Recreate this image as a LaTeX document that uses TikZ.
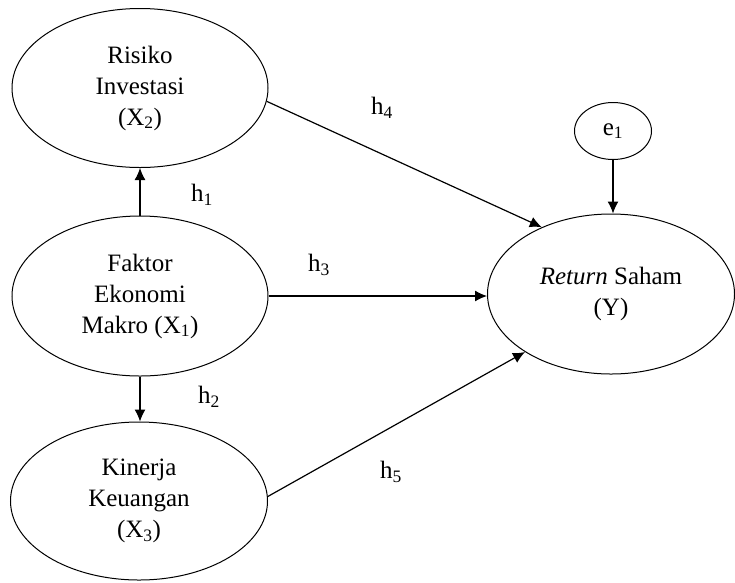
\documentclass[tikz,border=0pt]{standalone}
\usepackage{fontspec}
\setmainfont{Liberation Serif}
\usetikzlibrary{shapes.geometric,arrows.meta}
\begin{document}
\begin{tikzpicture}[x=1pt,y=-1pt,
  latent/.style={draw=black,line width=1pt,ellipse,inner sep=0pt,align=center,
    font=\fontsize{25}{31}\selectfont},
  hlabel/.style={inner sep=0pt,font=\fontsize{25}{31}\selectfont},
  link/.style={draw=black,line width=1.2pt,-{Latex[length=12pt,width=11pt]}}]
\useasboundingbox (0,0) rectangle (735,582);
\node[latent,minimum width=256pt,minimum height=159pt] (X2) at (140,88) {Risiko\\Investasi\\(X\textsubscript{2})};
\node[latent,minimum width=256pt,minimum height=160pt] (X1) at (140,296) {Faktor\\Ekonomi\\Makro (X\textsubscript{1})};
\node[latent,minimum width=257pt,minimum height=158pt] (X3) at (139,501) {Kinerja\\Keuangan\\(X\textsubscript{3})};
\node[latent,minimum width=247pt,minimum height=160pt] (Y) at (611,294) {\textit{Return} Saham\\(Y)};
\node[latent,minimum width=77pt,minimum height=57pt] (E) at (613,131) {e\textsubscript{1}};
\draw[link] (X1.north) -- (X2.south);
\draw[link] (X1.south) -- (X1.south |- X3.north);
\draw[link] (X1.east) -- (X1.east -| Y.west);
\draw[link] (X2.-6.5) -- (Y.136.5);
\draw[link] (X3.2.5) -- (Y.214.3);
\draw[link] (E.south) -- (E.south |- Y.north);
\node[hlabel] (h1) at (202,195) {h\textsubscript{1}};
\node[hlabel] (h2) at (209,397) {h\textsubscript{2}};
\node[hlabel] (h3) at (319,265) {h\textsubscript{3}};
\node[hlabel] (h4) at (382,108) {h\textsubscript{4}};
\node[hlabel] (h5) at (391,472) {h\textsubscript{5}};
\end{tikzpicture}
\end{document}
